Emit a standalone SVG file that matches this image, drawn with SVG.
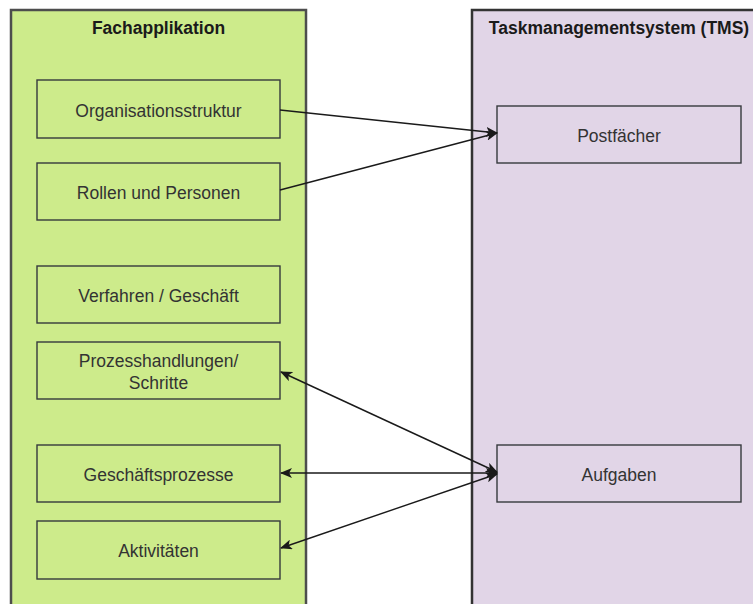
<svg xmlns="http://www.w3.org/2000/svg" width="753" height="604" viewBox="0 0 753 604">
  <style>
    .container-app { fill: #cdeb8b; stroke: #4d4d4d; stroke-width: 2.5; }
    .container-tms { fill: #e1d5e7; stroke: #333333; stroke-width: 2.5; }
    .box { fill: none; stroke: #36393d; stroke-width: 1.4; }
    .title { font-family: "Liberation Sans", Arial, sans-serif; font-size: 17.5px; font-weight: bold; fill: #1a1a1a; text-anchor: middle; }
    .label { font-family: "Liberation Sans", Arial, sans-serif; font-size: 17.5px; fill: #333333; text-anchor: middle; }
    .edge { fill: none; stroke: #1a1a1a; stroke-width: 1.4; }
  </style>
  <defs>
    <marker id="arrow" viewBox="0 0 12 10" refX="11" refY="5" markerWidth="12" markerHeight="10" markerUnits="userSpaceOnUse" orient="auto-start-reverse">
      <path d="M0,0 L12,5 L0,10 L3,5 Z" fill="#1a1a1a"/>
    </marker>
  </defs>

  <rect width="753" height="604" fill="#ffffff"/>

  <!-- containers -->
  <g id="fachapplikation">
    <rect class="container-app" x="11" y="10" width="295" height="610"/>
    <text class="title" x="158.5" y="34">Fachapplikation</text>
  </g>
  <g id="tms">
    <rect class="container-tms" x="472" y="10" width="295" height="610"/>
    <text class="title" x="619" y="34">Taskmanagementsystem (TMS)</text>
  </g>

  <!-- left nodes -->
  <g id="organisationsstruktur">
    <rect class="box" x="37" y="80" width="243" height="58"/>
    <text class="label" x="158.5" y="116.5">Organisationsstruktur</text>
  </g>
  <g id="rollen-personen">
    <rect class="box" x="37" y="163" width="243" height="57"/>
    <text class="label" x="158.5" y="198.5">Rollen und Personen</text>
  </g>
  <g id="verfahren">
    <rect class="box" x="37" y="266" width="243" height="57"/>
    <text class="label" x="158.5" y="301.5">Verfahren / Geschäft</text>
  </g>
  <g id="prozesshandlungen">
    <rect class="box" x="37" y="342" width="243" height="57"/>
    <text class="label" x="158.5" y="367">Prozesshandlungen/</text>
    <text class="label" x="158.5" y="388.5">Schritte</text>
  </g>
  <g id="geschaeftsprozesse">
    <rect class="box" x="37" y="445" width="243" height="57"/>
    <text class="label" x="158.5" y="480.5">Geschäftsprozesse</text>
  </g>
  <g id="aktivitaeten">
    <rect class="box" x="37" y="521" width="243" height="58"/>
    <text class="label" x="158.5" y="557">Aktivitäten</text>
  </g>

  <!-- right nodes -->
  <g id="postfaecher">
    <rect class="box" x="497" y="106" width="244" height="57"/>
    <text class="label" x="619" y="141.5">Postfächer</text>
  </g>
  <g id="aufgaben">
    <rect class="box" x="497" y="445" width="244" height="57"/>
    <text class="label" x="619" y="480.5">Aufgaben</text>
  </g>

  <!-- connectors -->
  <g id="connectors">
    <line class="edge" x1="280" y1="110" x2="497" y2="133" marker-end="url(#arrow)"/>
    <line class="edge" x1="280" y1="190" x2="497" y2="133" marker-end="url(#arrow)"/>
    <line class="edge" x1="281" y1="372" x2="497" y2="472" marker-start="url(#arrow)" marker-end="url(#arrow)"/>
    <line class="edge" x1="281" y1="473" x2="497" y2="473" marker-start="url(#arrow)" marker-end="url(#arrow)"/>
    <line class="edge" x1="281" y1="548" x2="497" y2="474" marker-start="url(#arrow)" marker-end="url(#arrow)"/>
  </g>
</svg>
